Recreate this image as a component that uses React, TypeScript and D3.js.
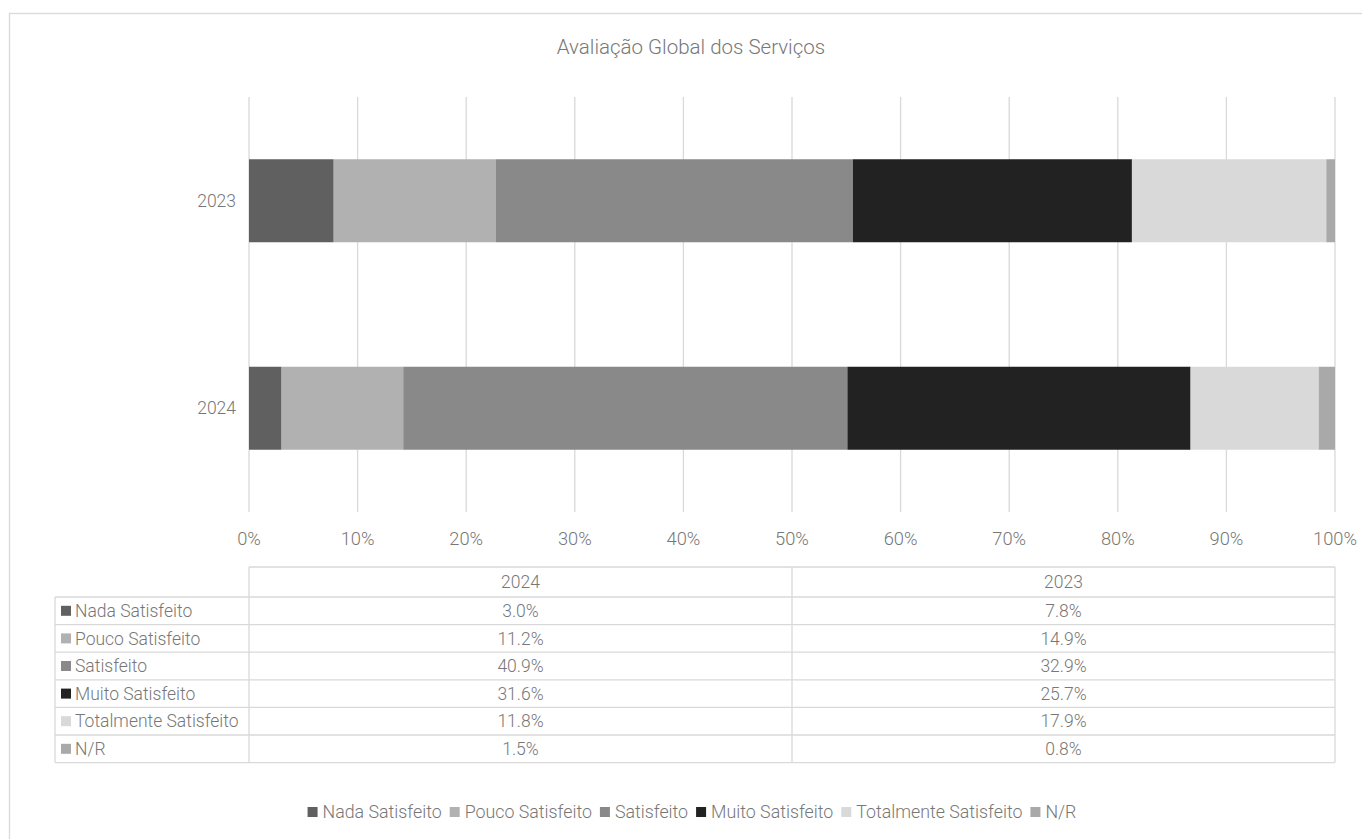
import React from "react";
import * as d3 from "d3";

// Survey responses per year (percent of respondents)
const seriesNames = [
  "Nada Satisfeito",
  "Pouco Satisfeito",
  "Satisfeito",
  "Muito Satisfeito",
  "Totalmente Satisfeito",
  "N/R",
];
const seriesColors = ["#606060", "#b1b1b1", "#898989", "#222222", "#d9d9d9", "#a9a9a9"];
const tableYears = ["2024", "2023"];
const values2024 = [3.0, 11.2, 40.9, 31.6, 11.8, 1.5];
const values2023 = [7.8, 14.9, 32.9, 25.7, 17.9, 0.8];
const chartYears = ["2023", "2024"];
const xTicks = [0, 10, 20, 30, 40, 50, 60, 70, 80, 90, 100];
const title = "Avaliação Global dos Serviços";

const FONT = "Roboto, 'Open Sans', sans-serif";
const TEXT = "#777777";
const GRID = "#d9d9d9";

const W = 1362;
const H = 839;

function measure(text: string, size: number) {
  const c = document.createElement("canvas").getContext("2d");
  if (!c) return text.length * size * 0.5;
  c.font = `300 ${size}px Roboto`;
  return c.measureText(text).width;
}

export default function App() {
  const valuesByYear: Record<string, number[]> = { "2024": values2024, "2023": values2023 };

  const x = d3.scaleLinear().domain([0, 100]).range([249, 1335]);
  const y = d3.scaleBand<string>().domain(chartYears).range([97, 512]).paddingInner(0.6).paddingOuter(0.3);

  const stackRows = chartYears.map((yr) => {
    const row: Record<string, number | string> = { year: yr };
    seriesNames.forEach((s, i) => (row[s] = valuesByYear[yr][i]));
    return row;
  });
  const stacked = d3.stack<Record<string, number | string>>().keys(seriesNames)(stackRows as any);

  // table geometry
  const tLeft = 55;
  const tLabelRight = x(0);
  const tRight = x(100);
  const tTop = 567;
  const headerH = 30;
  const rowH = 27.6;
  const colX = d3.scaleBand<string>().domain(tableYears).range([tLabelRight, tRight]);
  const rowY = (i: number) => tTop + headerH + i * rowH;
  const tBottom = rowY(seriesNames.length);

  // bottom legend layout
  const legSize = 17.8;
  const sw = 10;
  const widths = seriesNames.map((s) => sw + 5 + measure(s, legSize));
  const gap = 8;
  const total = d3.sum(widths) + gap * (widths.length - 1);
  let cursor = 692 - total / 2;
  const legendItems = seriesNames.map((s, i) => {
    const item = { name: s, x: cursor, color: seriesColors[i] };
    cursor += widths[i] + gap;
    return item;
  });

  return (
    <svg
      width={W}
      height={H}
      style={{ position: "absolute", left: 0, top: 0, background: "#fff" }}
      fontFamily={FONT}
      fontWeight={300}
    >
      <rect x={9.5} y={13.5} width={W + 20} height={H + 20} fill="#fff" stroke={GRID} strokeWidth={1.3} />

      <text x={691} y={54} textAnchor="middle" fontSize={20.5} fill={TEXT}>
        {title}
      </text>

      {/* vertical gridlines */}
      {xTicks.map((t) => (
        <line key={t} x1={x(t)} x2={x(t)} y1={97} y2={512} stroke={GRID} strokeWidth={1.3} />
      ))}

      {/* stacked bars */}
      {stacked.map((layer, i) => (
        <g key={layer.key} fill={seriesColors[i]}>
          {layer.map((d) => {
            const yr = (d.data as any).year as string;
            return (
              <rect
                key={yr}
                x={x(d[0])}
                y={y(yr)!}
                width={x(d[1]) - x(d[0])}
                height={y.bandwidth()}
              />
            );
          })}
        </g>
      ))}

      {/* category labels */}
      {chartYears.map((yr) => (
        <text
          key={yr}
          x={236}
          y={y(yr)! + y.bandwidth() / 2}
          dy="0.35em"
          textAnchor="end"
          fontSize={17.5}
          fill={TEXT}
        >
          {yr}
        </text>
      ))}

      {/* x tick labels */}
      {xTicks.map((t) => (
        <text key={t} x={x(t)} y={544.5} textAnchor="middle" fontSize={18.3} fill={TEXT}>
          {`${t}%`}
        </text>
      ))}

      {/* data table */}
      <g stroke={GRID} strokeWidth={1.3} fill="none">
        <line x1={tLabelRight} x2={tRight} y1={tTop} y2={tTop} />
        {d3.range(seriesNames.length + 1).map((i) => (
          <line key={i} x1={tLeft} x2={tRight} y1={rowY(i)} y2={rowY(i)} />
        ))}
        <line x1={tLeft} x2={tLeft} y1={rowY(0)} y2={tBottom} />
        <line x1={tLabelRight} x2={tLabelRight} y1={tTop} y2={tBottom} />
        <line x1={colX("2023")!} x2={colX("2023")!} y1={tTop} y2={tBottom} />
        <line x1={tRight} x2={tRight} y1={tTop} y2={tBottom} />
      </g>
      {tableYears.map((yr) => (
        <text
          key={yr}
          x={colX(yr)! + colX.bandwidth() / 2}
          y={tTop + headerH / 2}
          dy="0.35em"
          textAnchor="middle"
          fontSize={17.5}
          fill={TEXT}
        >
          {yr}
        </text>
      ))}
      {seriesNames.map((s, i) => (
        <g key={s}>
          <rect x={61} y={rowY(i) + rowH / 2 - 5} width={10} height={10} fill={seriesColors[i]} />
          <text x={75} y={rowY(i) + rowH / 2} dy="0.35em" fontSize={17.5} fill={TEXT}>
            {s}
          </text>
          {tableYears.map((yr) => (
            <text
              key={yr}
              x={colX(yr)! + colX.bandwidth() / 2}
              y={rowY(i) + rowH / 2}
              dy="0.35em"
              textAnchor="middle"
              fontSize={17.5}
              fill={TEXT}
            >
              {`${valuesByYear[yr][i].toFixed(1)}%`}
            </text>
          ))}
        </g>
      ))}

      {/* legend */}
      {legendItems.map((it) => (
        <g key={it.name}>
          <rect x={it.x} y={807} width={sw} height={sw} fill={it.color} />
          <text x={it.x + sw + 5} y={812} dy="0.35em" fontSize={legSize} fill={TEXT}>
            {it.name}
          </text>
        </g>
      ))}
    </svg>
  );
}
